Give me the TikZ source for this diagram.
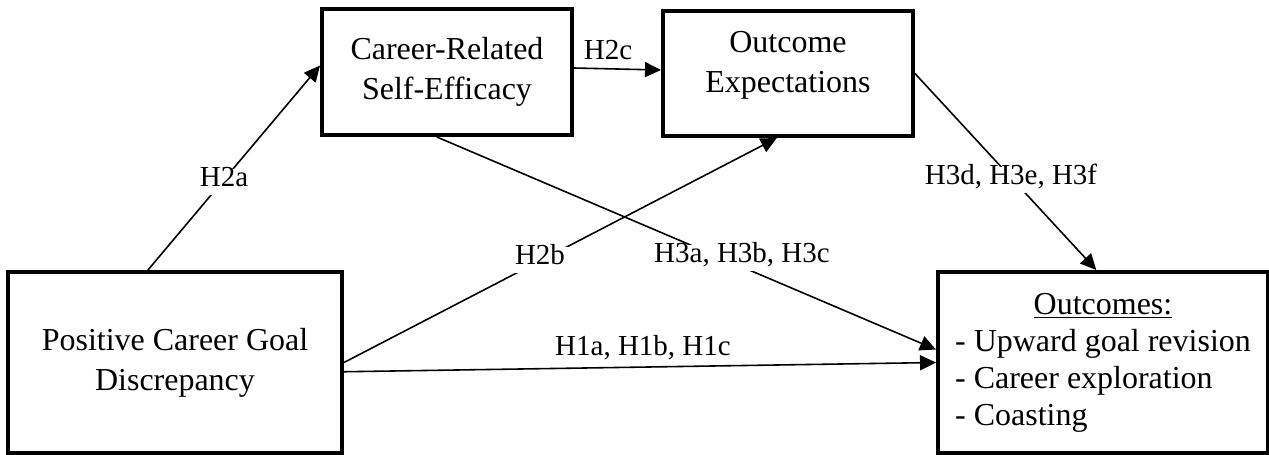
\documentclass[tikz,border=0pt]{standalone}
\usepackage{fontspec}
\setmainfont{Liberation Serif}
\usetikzlibrary{calc, arrows.meta}

\tikzset{
  box/.style={draw, line width=0.08cm, inner sep=0pt, align=center,
    font=\fontsize{18.2}{22.7}\selectfont},
  hyp/.style={inner sep=2.8pt, text height=0.72em, text depth=0.25em,
    font=\fontsize{16.5}{20}\selectfont},
  link/.style={line width=0.9pt, -{Triangle[length=0.32cm, width=0.3cm]}}
}

\begin{document}
\begin{tikzpicture}[x=0.02cm, y=-0.02cm]
      \useasboundingbox (0,0) rectangle (1269,454);
      \clip (0,0) rectangle (1269,454);

      % boxes
      \node[box, minimum width=6.68cm, minimum height=3.62cm] (pcg) at (175,362.5) {Positive Career Goal\\Discrepancy};
      \node[box, minimum width=5cm, minimum height=2.52cm] (cse) at (447,72) {Career-Related\\Self-Efficacy};
      \node[box, minimum width=5cm, minimum height=2.5cm] (oe) at (788,73.5) {};
      \node[align=center, inner sep=0pt, font=\fontsize{18.2}{22.7}\selectfont] (oetext) at (788,65) {Outcome\\Expectations};
      \node[box, minimum width=6.6cm, minimum height=3.62cm, font=\fontsize{18.2}{21}\selectfont] (out) at (1103,362.5) {%
        \begin{tabular}{@{}l@{}}
          \multicolumn{1}{@{}c@{}}{\underline{Outcomes:}}\\
          - Upward goal revision\\
          - Career exploration\\
          - Coasting
        \end{tabular}};

      % paths
      \draw[link] ($(pcg.north west)!0.42!(pcg.north east)$) -- ($(cse.north west)!0.45!(cse.south west)$);
      \draw[link] ($(cse.east)+(0,-4)$) -- ($(oe.west)+(0,-3.5)$);
      \draw[link] (pcg.east) -- ($(oe.south west)!0.456!(oe.south east)$);
      \draw[link] ($(cse.south west)!0.46!(cse.south east)$) -- ($(out.north west)!0.43!(out.south west)$);
      \draw[link] ($(pcg.north east)!0.55!(pcg.south east)$) -- (out.west);
      \draw[link] (oe.east) -- ($(out.north west)!0.48!(out.north east)$);

      % hypotheses
      \node[hyp, fill=white] (h2a) at (224,182) {H2a};
      \node[hyp] (h2c) at (608,55) {H2c};
      \node[hyp, fill=white] (h2b) at (540,260) {H2b};
      \node[hyp, fill=white] (h3abc) at (742,258) {H3a, H3b, H3c};
      \node[hyp, fill=white] (h3def) at (1011,180) {H3d, H3e, H3f};
      \node[hyp] (h1abc) at (643,351) {H1a, H1b, H1c};
\end{tikzpicture}
\end{document}
